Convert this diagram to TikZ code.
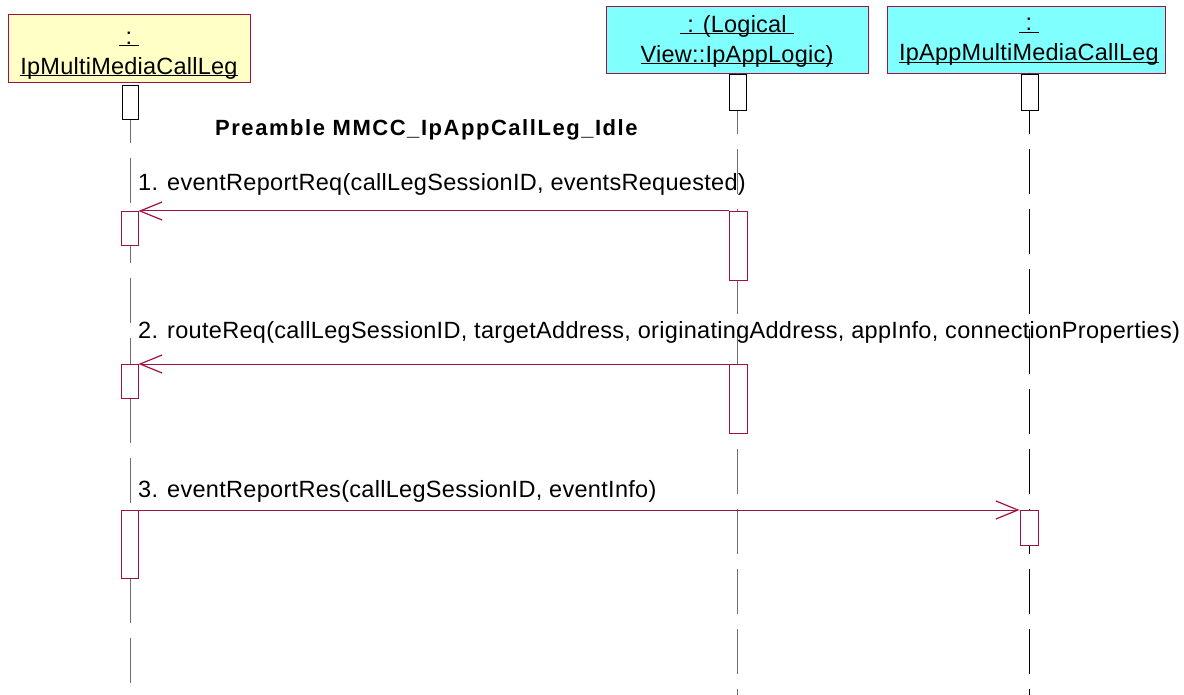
\documentclass[tikz,border=0pt]{standalone}
\usepackage{fontspec}
\setmainfont{Liberation Sans}
\usetikzlibrary{arrows.meta}
\newcommand{\ulx}[1]{\leavevmode\setbox0\hbox{#1}\rlap{\rule[-2.2pt]{\wd0}{1.1pt}}\box0}
\definecolor{crim}{RGB}{160,16,64}
\definecolor{hyel}{RGB}{255,255,198}
\definecolor{hcyan}{RGB}{128,255,255}
\definecolor{lgrey}{RGB}{110,110,110}
\tikzset{
  hdrbox/.style={draw=crim, line width=0.9pt, inner sep=0pt},
  hdrtxt/.style={align=center, inner sep=0pt,
    font=\fontsize{23.5}{30}\selectfont\addfontfeature{LetterSpace=1}},
  life/.style={line width=1pt, dash pattern=on 45pt off 15pt, dash phase=44pt},
  topact/.style={draw=black, fill=white, line width=0.8pt, inner sep=0pt},
  act/.style={draw=crim, fill=white, line width=1pt, inner sep=0pt, anchor=north},
  msg/.style={draw=crim, line width=1pt, -{Straight Barb[length=22pt,width=18pt,line width=1.2pt]}},
  lbl/.style={anchor=base west, inner sep=0pt, font=\fontsize{23.5}{28}\selectfont\addfontfeature{LetterSpace=1.3}},
}
\begin{document}
\begin{tikzpicture}[x=1pt,y=-1pt]
\useasboundingbox (0,0) rectangle (1184,695);
% headers
\node[hdrbox, fill=hyel, minimum width=242pt, minimum height=68pt] (h1) at (129,48) {};
\node[hdrtxt] (h1t) at (129,55.5) {\ulx{\ :\ }\\\ulx{IpMultiMediaCallLeg}};
\node[hdrbox, fill=hcyan, minimum width=262pt, minimum height=67pt] (h2) at (737,39.5) {};
\node[hdrtxt] (h2t) at (737,41) {\ulx{\ : (Logical\ }\\\ulx{View::IpAppLogic)}};
\node[hdrbox, fill=hcyan, minimum width=278pt, minimum height=67pt] (h3) at (1026,39.5) {};
\node[hdrtxt] (h3t) at (1029,42) {\ulx{\ :\ }\\\ulx{IpAppMultiMediaCallLeg}};
% lifelines
\coordinate (e1) at (130,695);
\coordinate (e2) at (737,695);
\coordinate (e3) at (1029,695);
\draw[life, draw=lgrey] (h1.south -| e1) -- (e1);
\draw[life, draw=lgrey] (h2.south -| e2) -- (e2);
\draw[life, draw=black] (h3.south -| e3) -- (e3);
% top activations
\node[topact, minimum width=16pt, minimum height=34pt] (t1) at (130,102) {};
\node[topact, minimum width=17pt, minimum height=36pt] (t2) at (737.5,92) {};
\node[topact, minimum width=17pt, minimum height=36pt] (t3) at (1029.5,92) {};
% title
\node[anchor=base west, inner sep=0pt, font=\fontsize{22}{26}\selectfont\bfseries\addfontfeature{LetterSpace=7}] (title) at (215,136) {Preamble MMCC\_IpAppCallLeg\_Idle};
% activations
\node[act, minimum width=17pt, minimum height=34pt] (a1) at (129.5,211) {};
\node[act, minimum width=18pt, minimum height=69pt] (b1) at (738,211) {};
\node[act, minimum width=17pt, minimum height=34pt] (a2) at (129.5,364) {};
\node[act, minimum width=18pt, minimum height=69pt] (b2) at (738,364) {};
\node[act, minimum width=17pt, minimum height=68pt] (a3) at (129.5,510) {};
\node[act, minimum width=18pt, minimum height=35pt] (c3) at (1029,510) {};
% messages
\draw[msg] (b1.north west) -- (a1.north east);
\node[lbl] (m1) at (138,191) {1. eventReportReq(callLegSessionID, eventsRequested)};
\draw[msg] (b2.north west) -- (a2.north east);
\node[lbl] (m2) at (138,338) {2. routeReq(callLegSessionID, targetAddress, originatingAddress, appInfo, connectionProperties)};
\draw[msg] (a3.north east) -- (c3.north west);
\node[lbl] (m3) at (138,497) {3. eventReportRes(callLegSessionID, eventInfo)};
\end{tikzpicture}
\end{document}
